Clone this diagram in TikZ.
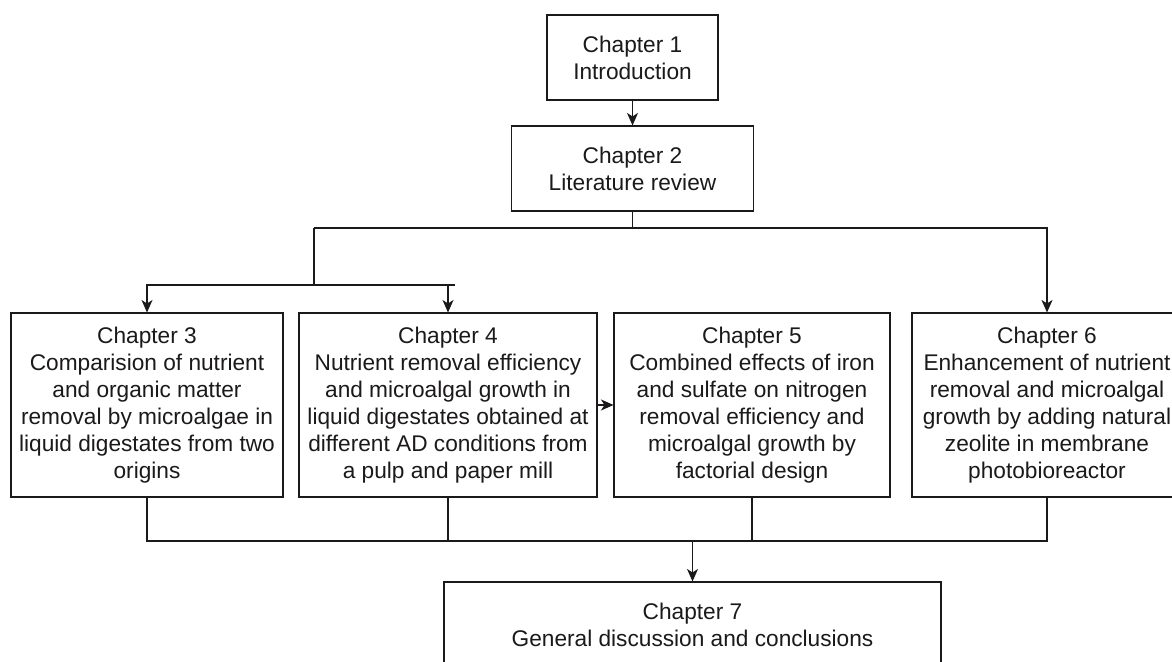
\documentclass[tikz,border=0pt]{standalone}
\usepackage{fontspec}
\setmainfont{Liberation Sans}
\usepackage{xcolor}
\usetikzlibrary{positioning,arrows.meta,calc}
\definecolor{ink}{HTML}{1B1919}
\tikzset{
  chap/.style={draw=ink, line width=0.6pt, fill=white, align=center, inner sep=1pt, text=ink,
    font=\fontsize{12.9pt}{15.4pt}\selectfont},
  link/.style={ink, line width=0.6pt},
}

\begin{document}
\begin{tikzpicture}[
  flow/.style={link, -{Stealth[length=2.5mm, width=2.2mm, inset=0.7mm]}}]
\useasboundingbox (0,0) rectangle (23.44,13.22);
\node[chap, minimum width=3.42cm, minimum height=1.7cm] (ch1) at (12.65,12.07) {Chapter 1\\Introduction};
\node[chap, minimum width=4.84cm, minimum height=1.7cm] (ch2) at (12.65,9.85) {Chapter 2\\Literature review};
\node[chap, minimum width=5.44cm, minimum height=3.68cm] (ch3) at (2.94,5.12) {Chapter 3\\Comparision of nutrient\\and organic matter\\removal by microalgae in\\liquid digestates from two\\origins};
\node[chap, minimum width=5.96cm, minimum height=3.68cm] (ch4) at (8.96,5.12) {Chapter 4\\Nutrient removal efficiency\\and microalgal growth in\\liquid digestates obtained at\\different AD conditions from\\a pulp and paper mill};
\node[chap, minimum width=5.52cm, minimum height=3.68cm] (ch5) at (15.04,5.12) {Chapter 5\\Combined effects of iron\\and sulfate on nitrogen\\removal efficiency and\\microalgal growth by\\factorial design};
\node[chap, minimum width=5.4cm, minimum height=3.68cm] (ch6) at (20.94,5.12) {Chapter 6\\Enhancement of nutrient\\removal and microalgal\\growth by adding natural\\zeolite in membrane\\photobioreactor};
\node[chap, minimum width=9.94cm, minimum height=1.7cm] (ch7) at (13.85,0.73) {Chapter 7\\General discussion and conclusions};
\coordinate (j2) at (ch2.south |- 0,8.66);
\coordinate (jl) at (6.28,8.66);
\coordinate (js) at (6.28,7.52);
\coordinate (jse) at (9.10,7.52);
\coordinate (j7) at (ch7.north |- 0,2.40);
\draw[flow] (ch1) -- (ch2);
\draw[link] (ch2.south) -- (j2);
\draw[flow] (jl) -| (ch6.north);
\draw[link] (jl) -- (js);
\draw[flow] (jse) -| (ch3.north);
\draw[flow] (ch4.north |- js) -- (ch4.north);
\draw[flow] (ch4.east) -- (ch5.west);
\draw[link] (ch3.south) |- (ch6.south |- j7) -- (ch6.south);
\draw[link] (ch4.south) -- (ch4.south |- j7);
\draw[link] (ch5.south) -- (ch5.south |- j7);
\draw[flow] (j7) -- (ch7.north);
\end{tikzpicture}
\end{document}
